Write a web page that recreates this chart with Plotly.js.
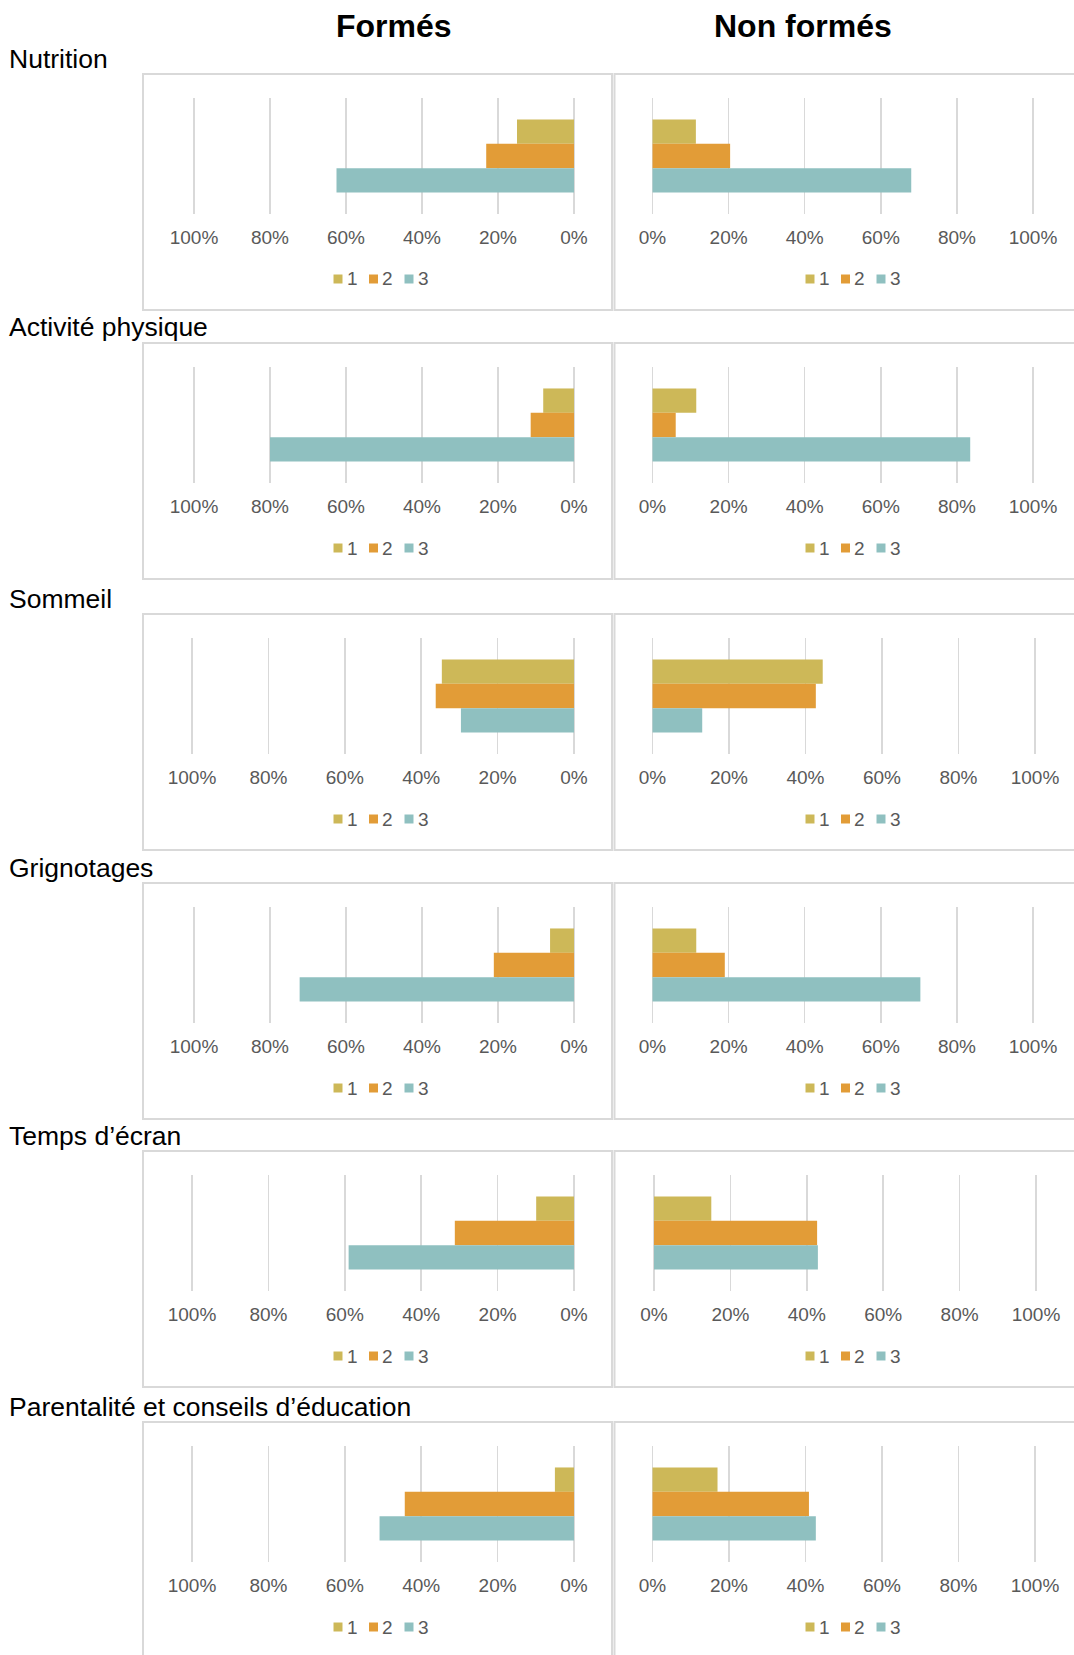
<!DOCTYPE html>
<html>
<head>
<meta charset="utf-8">
<script src="https://cdn.plot.ly/plotly-3.0.1.min.js"></script>
<style>html,body{margin:0;padding:0;background:#fff;}#chart{width:1074px;height:1655px;}</style>
</head>
<body>
<div id="chart"></div>
<script>
// ---- DATA ----
const categories = ["Nutrition", "Activité physique", "Sommeil", "Grignotages", "Temps d’écran", "Parentalité et conseils d’éducation"];
const groups = ["Formés", "Non formés"];
const seriesNames = ["1", "2", "3"];
const formes1 = [15.0, 8.1, 34.6, 6.3, 9.9, 5.0];
const formes2 = [23.1, 11.4, 36.2, 21.1, 31.2, 44.3];
const formes3 = [62.5, 80.0, 29.6, 72.2, 59.0, 50.9];
const nonFormes1 = [11.4, 11.5, 44.5, 11.5, 15.0, 17.0];
const nonFormes2 = [20.4, 6.1, 42.7, 19.0, 42.7, 40.9];
const nonFormes3 = [68.0, 83.5, 13.0, 70.4, 42.9, 42.7];
const tickValues = [0, 20, 40, 60, 80, 100];
const tickLabels = ["0%", "20%", "40%", "60%", "80%", "100%"];

// ---- STYLE / LAYOUT ----
const colors = ["#CDB858", "#E29C37", "#8FC0C0"];
const W = 1074, H = 1655;
const FONT = "Liberation Sans, Arial, Helvetica, sans-serif";
const rowTops = [74, 343, 614, 883, 1151, 1422];
const leftHundred = [194, 194, 192, 194, 192, 192];
const leftZero = 574;
const rightZero = [652.5, 652.5, 652.5, 652.5, 654, 652.5];
const rightHundred = [1033, 1033, 1035, 1033, 1036, 1035];
const pad = 5; // range padding in % units
const px = x => x / W;
const py = y => 1 - y / H;

const panelData = [
  [formes1, formes2, formes3],
  [nonFormes1, nonFormes2, nonFormes3]
];

const traces = [];
const layout = {
  width: W, height: H,
  margin: {l: 0, r: 0, t: 0, b: 0},
  paper_bgcolor: "#ffffff",
  plot_bgcolor: "rgba(0,0,0,0)",
  showlegend: false,
  barmode: "group",
  bargap: 0.37,
  bargroupgap: 0,
  font: {family: FONT, color: "#595959"},
  shapes: [],
  annotations: []
};

categories.forEach((cat, r) => {
  const T = rowTops[r];
  for (let p = 0; p < 2; p++) {
    const idx = r * 2 + p + 1;
    const xa = "x" + idx, ya = "y" + idx;
    let x0, x100, range;
    if (p === 0) { x0 = leftZero; x100 = leftHundred[r]; }
    else { x0 = rightZero[r]; x100 = rightHundred[r]; }
    const ppu = (x100 - x0) / 100; // signed px per unit
    const dA = x0 - pad * ppu, dB = x100 + pad * ppu;
    const dom = [px(Math.min(dA, dB)), px(Math.max(dA, dB))];
    range = p === 0 ? [100 + pad, -pad] : [-pad, 100 + pad];
    layout["xaxis" + idx] = {
      domain: dom, range: range, anchor: ya,
      tickmode: "array", tickvals: tickValues, ticktext: tickLabels,
      showgrid: true, gridcolor: "#D9D9D9", gridwidth: 1.5,
      zeroline: false, showline: false,
      ticks: "", ticklabelstandoff: 10,
      tickfont: {family: FONT, size: 19, color: "#595959"},
      fixedrange: true
    };
    layout["yaxis" + idx] = {
      domain: [py(T + 140), py(T + 24)],
      type: "category", range: [0.5, -0.5], anchor: xa,
      showgrid: false, zeroline: false, showline: false,
      showticklabels: false, ticks: "", fixedrange: true
    };
    for (let s = 0; s < 3; s++) {
      traces.push({
        type: "bar", orientation: "h",
        x: [panelData[p][s][r]], y: [cat],
        name: seriesNames[s],
        xaxis: xa, yaxis: ya,
        marker: {color: colors[s], line: {width: 0}},
        hoverinfo: "skip"
      });
    }
    // panel box
    const bx0 = p === 0 ? 143 : 614.5;
    const bx1 = p === 0 ? 612 : 1092;
    layout.shapes.push({
      type: "rect", xref: "paper", yref: "paper",
      x0: px(bx0), x1: px(bx1), y0: py(T), y1: py(T + 236),
      line: {color: "#D9D9D9", width: 2}, fillcolor: "rgba(0,0,0,0)", layer: "below"
    });
    // legend
    const cx = p === 0 ? 380 : 852;
    for (let s = 0; s < 3; s++) {
      const sx = cx - 42 + 35.5 * s;
      layout.shapes.push({
        type: "rect", xref: "paper", yref: "paper",
        x0: px(sx - 4.5), x1: px(sx + 4.5), y0: py(T + 209.5), y1: py(T + 200.5),
        line: {width: 0}, fillcolor: colors[s]
      });
      layout.annotations.push({
        xref: "paper", yref: "paper", x: px(sx + 14), y: py(T + 205),
        xanchor: "center", yanchor: "middle", showarrow: false,
        text: seriesNames[s], font: {family: FONT, size: 19, color: "#595959"}
      });
    }
  }
  // row label
  layout.annotations.push({
    xref: "paper", yref: "paper", x: px(7), y: py(T - 15.5),
    xanchor: "left", yanchor: "middle", showarrow: false,
    text: cat, font: {family: FONT, size: 26.5, color: "#000000"}
  });
});

// column titles
const titleX = [394, 803];
groups.forEach((g, i) => {
  layout.annotations.push({
    xref: "paper", yref: "paper", x: px(titleX[i]), y: py(25.5),
    xanchor: "center", yanchor: "middle", showarrow: false,
    text: "<b>" + g + "</b>", font: {family: FONT, size: 32, color: "#000000"}
  });
});

Plotly.newPlot("chart", traces, layout, {displayModeBar: false, staticPlot: true});
</script>
</body>
</html>
